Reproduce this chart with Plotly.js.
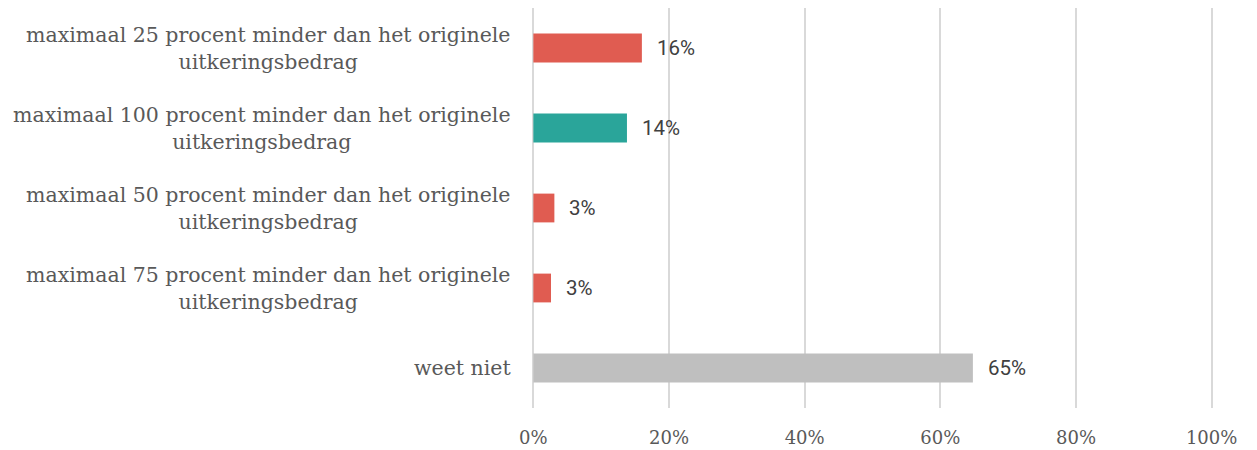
<!DOCTYPE html>
<html>
<head>
<meta charset="utf-8">
<script src="https://cdn.plot.ly/plotly-3.0.1.min.js"></script>
<style>html,body{margin:0;padding:0;background:#fff;}#chart{width:1257px;height:450px;}</style>
</head>
<body>
<div id="chart"></div>
<script>
const categories = [
  "maximaal 25 procent minder dan het originele<br>uitkeringsbedrag",
  "maximaal 100 procent minder dan het originele<br>uitkeringsbedrag",
  "maximaal 50 procent minder dan het originele<br>uitkeringsbedrag",
  "maximaal 75 procent minder dan het originele<br>uitkeringsbedrag",
  "weet niet"
];
const values = [0.16, 0.138, 0.031, 0.026, 0.648];
const valueLabels = ["16%", "14%", "3%", "3%", "65%"];
const barColors = ["#E05C51", "#2AA59A", "#E05C51", "#E05C51", "#BFBFBF"];
const tickVals = [0, 0.2, 0.4, 0.6, 0.8, 1];
const tickText = ["0%", "20%", "40%", "60%", "80%", "100%"];

const trace = {
  type: "bar",
  orientation: "h",
  y: categories,
  x: values,
  marker: {color: barColors},
  width: 0.36,
  hoverinfo: "none"
};

const annotations = [];
categories.forEach((c, i) => {
  annotations.push({
    xref: "paper", yref: "y", x: 0, y: c, xanchor: "right", yanchor: "middle",
    xshift: -19, text: c, showarrow: false, align: "center",
    font: {family: "DejaVu Serif", size: 20.5, color: "#595959"}
  });
  annotations.push({
    xref: "x", yref: "y", x: values[i], y: c, xanchor: "left", yanchor: "middle",
    xshift: 13, text: valueLabels[i], showarrow: false,
    font: {family: "Roboto", size: 20.5, color: "#404040"}
  });
});

const layout = {
  width: 1257, height: 450,
  margin: {l: 532, r: 44, t: 8, b: 42},
  paper_bgcolor: "#fff", plot_bgcolor: "#fff",
  showlegend: false,
  xaxis: {
    range: [-0.002, 1.002], tickvals: tickVals, ticktext: tickText,
    showgrid: true, gridcolor: "#D9D9D9", gridwidth: 2,
    zeroline: false, showline: false, ticks: "",
    ticklabelstandoff: 17,
    tickfont: {family: "DejaVu Serif", size: 18, color: "#595959"},
    fixedrange: true
  },
  yaxis: {
    type: "category", autorange: "reversed",
    showticklabels: false, showgrid: false, zeroline: false, showline: false, ticks: ""
  },
  annotations: annotations
};

Plotly.newPlot("chart", [trace], layout, {displayModeBar: false, staticPlot: true});
</script>
</body>
</html>
